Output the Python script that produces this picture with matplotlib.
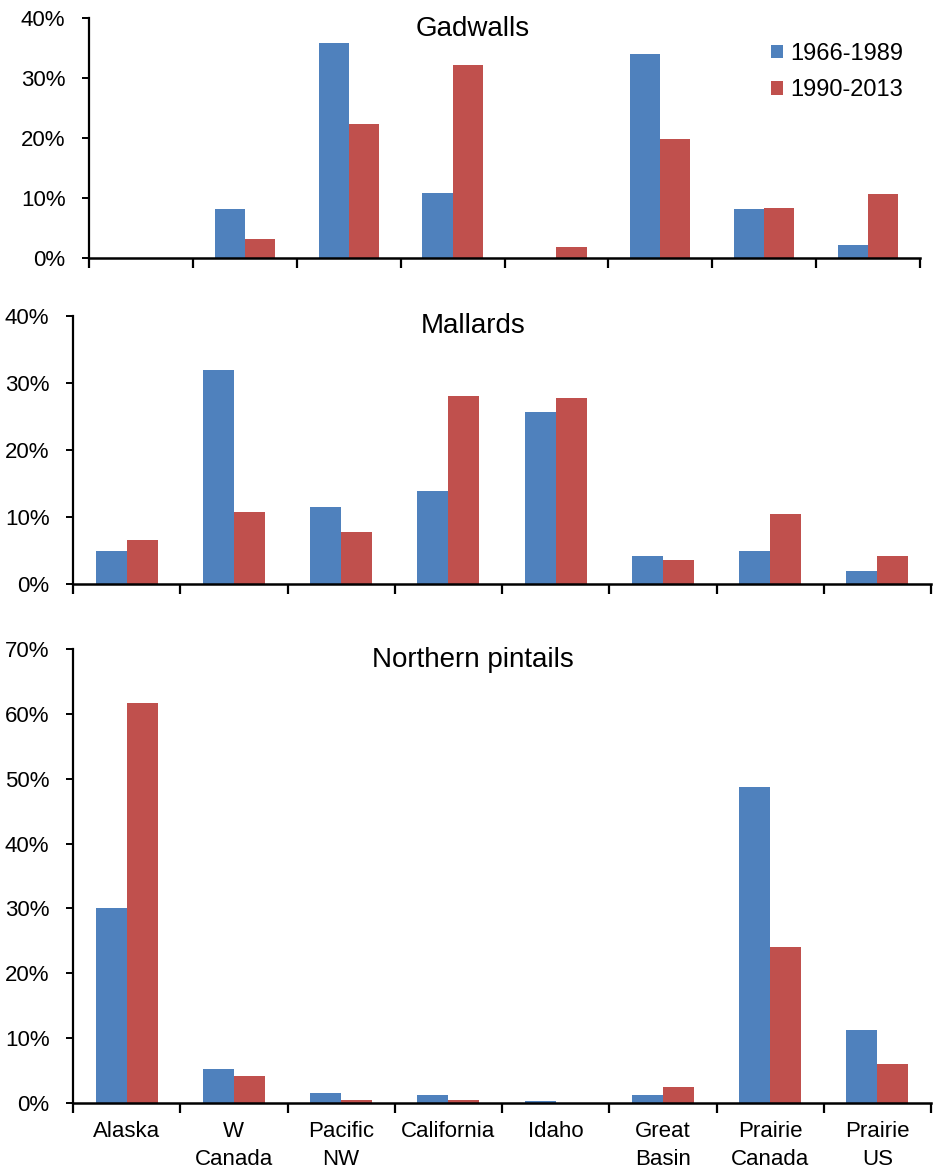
import matplotlib
matplotlib.use('Agg')
import matplotlib.pyplot as plt
from matplotlib.ticker import PercentFormatter
import numpy as np

plt.rcParams['font.family'] = ['Liberation Sans', 'DejaVu Sans']

# Data (percent of birds)
regions = ['Alaska', 'W\nCanada', 'Pacific\nNW', 'California', 'Idaho',
           'Great\nBasin', 'Prairie\nCanada', 'Prairie\nUS']
periods = ['1966-1989', '1990-2013']

gadwall_early = [0, 8.2, 35.9, 10.9, 0, 34.0, 8.2, 2.1]
gadwall_late  = [0, 3.1, 22.4, 32.2, 1.8, 19.9, 8.4, 10.7]

mallard_early = [4.95, 31.9, 11.5, 13.9, 25.7, 4.2, 4.95, 1.9]
mallard_late  = [6.5, 10.8, 7.7, 28.0, 27.8, 3.6, 10.4, 4.2]

pintail_early = [30.1, 5.3, 1.5, 1.2, 0.3, 1.2, 48.7, 11.2]
pintail_late  = [61.7, 4.1, 0.5, 0.5, 0, 2.4, 24.0, 6.0]

blue = '#4F81BD'
red  = '#C0504D'

W, H = 933, 1172
fig = plt.figure(figsize=(W / 100, H / 100), dpi=100)

def px_axes(left, right, top, bottom):
    return fig.add_axes([left / W, 1 - bottom / H, (right - left) / W, (bottom - top) / H])

# title, series, y max, axes, title baseline (px from top)
panels = [
    ('Gadwalls',          gadwall_early, gadwall_late, 40, px_axes(89, 920, 18, 258),   36),
    ('Mallards',          mallard_early, mallard_late, 40, px_axes(73, 931, 316, 584),  333),
    ('Northern pintails', pintail_early, pintail_late, 70, px_axes(73, 931, 649, 1103), 667),
]

x = np.arange(len(regions))
bw = 0.29
for i, (title, early, late, ymax, ax, ty) in enumerate(panels):
    ax.bar(x - bw / 2, early, bw, color=blue, label=periods[0])
    ax.bar(x + bw / 2, late, bw, color=red, label=periods[1])
    ax.set_xlim(-0.5, len(regions) - 0.5)
    ax.set_ylim(0, ymax)
    ax.set_yticks(np.arange(0, ymax + 1, 10))
    ax.yaxis.set_major_formatter(PercentFormatter(decimals=0))
    ax.spines['top'].set_visible(False)
    ax.spines['right'].set_visible(False)
    ax.spines['left'].set_linewidth(1.6)
    ax.spines['bottom'].set_linewidth(1.8)
    ax.tick_params(axis='y', labelsize=16, length=5, width=1.4, pad=12, colors='black')
    # boundary ticks on x, labels at category centres
    ax.set_xticks(np.arange(-0.5, len(regions)), labels=[])
    ax.tick_params(axis='x', which='major', length=7, width=1.6)
    ax.set_xticks(x, minor=True)
    if i == 2:
        ax.set_xticklabels(regions, minor=True, fontsize=16, va='top', linespacing=1.45)
    ax.tick_params(axis='x', which='minor', length=0, pad=13)
    fig.text(473 / W, 1 - ty / H, title, ha='center', va='baseline', fontsize=20)
    if i == 0:
        ax.legend(loc='upper left', bbox_to_anchor=(771 / W, 1 - 43 / H),
                  bbox_transform=fig.transFigure, frameon=False, fontsize=17,
                  borderpad=0, borderaxespad=0,
                  handlelength=0.5, handleheight=0.5, handletextpad=0.3,
                  labelspacing=0.6)

fig.savefig('out.png', dpi=100)
